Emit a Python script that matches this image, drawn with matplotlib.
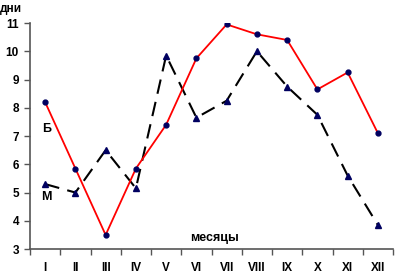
import numpy as np
import matplotlib
matplotlib.use('Agg')
import matplotlib.pyplot as plt

plt.rcParams['font.family'] = ['Liberation Sans', 'DejaVu Sans']
plt.rcParams['font.weight'] = 'bold'

months = ['I', 'II', 'III', 'IV', 'V', 'VI', 'VII', 'VIII', 'IX', 'X', 'XI', 'XII']
b_days = [8.2, 5.85, 3.5, 5.85, 7.4, 9.75, 10.95, 10.6, 10.4, 8.65, 9.25, 7.1]
m_days = [5.3, 5.0, 6.5, 5.15, 9.85, 7.65, 8.25, 10.0, 8.75, 7.75, 5.6, 3.85]
y_ticks = [3, 4, 5, 6, 7, 8, 9, 10, 11]

fig = plt.figure(figsize=(3.95, 2.74), dpi=100)
ax = fig.add_axes([0.076, 0.091, 0.919, 0.825])

x = np.arange(len(months))
ax.plot(x, b_days, color='#ff0000', lw=1.3, marker='o', ms=3.5,
        mfc='#000060', mec='#000060', zorder=3)
ax.plot(x, m_days, color='black', lw=1.5, dashes=(7, 4), marker='^', ms=4.5,
        mfc='#000060', mec='#000060', zorder=2)

ax.set_xlim(-0.5, 11.5)
ax.set_ylim(3, 11)
ax.set_yticks(y_ticks)
ax.set_xticks(x)
ax.set_xticklabels(months)
ax.set_xticks(np.arange(-0.5, 12, 1), minor=True)
ax.tick_params(axis='x', which='major', length=0, pad=9, labelsize=8.5)
ax.tick_params(axis='x', which='minor', length=4, direction='out', width=1, color='#555555')
ax.tick_params(axis='y', length=4, direction='out', width=1, color='#555555', labelsize=8.5, pad=4)

for side in ['top', 'right']:
    ax.spines[side].set_visible(False)
for side in ['left', 'bottom']:
    ax.spines[side].set_color('#555555')
    ax.spines[side].set_linewidth(1.2)

fig.text(0.0, 0.99, 'дни', fontsize=8.5, fontweight='bold', va='top', ha='left')
ax.text(0.05, 7.25, 'Б', fontsize=9, fontweight='bold', ha='center', va='center')
ax.text(0.05, 4.85, 'М', fontsize=9, fontweight='bold', ha='center', va='center')
ax.text(5.6, 3.4, 'месяцы', fontsize=9, fontweight='bold', ha='center', va='center')

fig.savefig('out.png', dpi=100)
